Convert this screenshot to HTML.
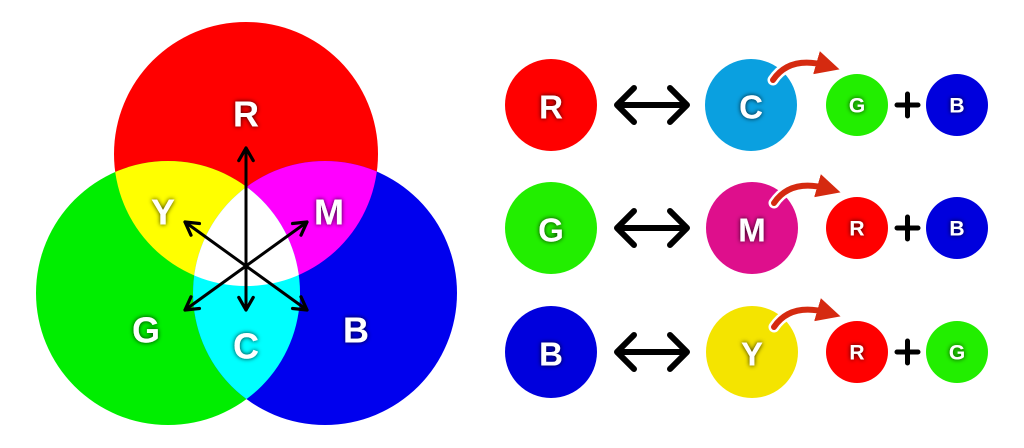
<!DOCTYPE html>
<html><head><style>
html,body{margin:0;padding:0;background:#fff;width:1024px;height:448px;overflow:hidden}
svg text{font-family:"Liberation Sans",sans-serif;font-weight:bold;fill:#fff;text-anchor:middle;dominant-baseline:central;}
</style></head><body>
<svg width="1024" height="448" viewBox="0 0 1024 448" xmlns="http://www.w3.org/2000/svg">
<defs>
<clipPath id="cR"><circle cx="246" cy="154" r="132"/></clipPath>
<clipPath id="cG"><circle cx="168" cy="293" r="132"/></clipPath>
<clipPath id="cB"><circle cx="325" cy="293" r="132"/></clipPath>
<filter id="sh" x="-50%" y="-50%" width="200%" height="200%"><feDropShadow dx="0" dy="0" stdDeviation="2.5" flood-color="#000" flood-opacity="0.85"/></filter>
<marker id="ah" viewBox="0 0 10 10" refX="8" refY="5" markerWidth="6" markerHeight="6" orient="auto-start-reverse"><path d="M1,1 L8,5 L1,9" fill="none" stroke="#000" stroke-width="1.8" stroke-linecap="round" stroke-linejoin="round"/></marker>
<marker id="ra" viewBox="0 0 10 10" refX="5" refY="5" markerWidth="4" markerHeight="4" orient="auto"><path d="M0,0 L10,5 L0,10 z" fill="#d52a10"/></marker>
</defs>
<circle cx="246" cy="154" r="132" fill="#ff0000"/>
<circle cx="168" cy="293" r="132" fill="#00ee00"/>
<circle cx="325" cy="293" r="132" fill="#0000ee"/>
<g clip-path="url(#cR)"><circle cx="168" cy="293" r="132" fill="#ffff00"/><circle cx="325" cy="293" r="132" fill="#ff00ff"/></g>
<g clip-path="url(#cG)"><circle cx="325" cy="293" r="132" fill="#00ffff"/></g>
<g clip-path="url(#cR)"><g clip-path="url(#cG)"><circle cx="325" cy="293" r="132" fill="#ffffff"/></g></g>
<g stroke="#000" stroke-width="3" fill="none" stroke-linecap="round">
<line x1="246" y1="310" x2="246" y2="148" marker-start="url(#ah)" marker-end="url(#ah)"/>
<line x1="185" y1="310" x2="307" y2="222" marker-start="url(#ah)" marker-end="url(#ah)"/>
<line x1="185" y1="222" x2="307" y2="310" marker-start="url(#ah)" marker-end="url(#ah)"/>
</g>
<g font-size="36" filter="url(#sh)">
<text x="246" y="114">R</text>
<text x="163" y="212">Y</text>
<text x="329" y="212">M</text>
<text x="146" y="330">G</text>
<text x="246" y="346">C</text>
<text x="356" y="330">B</text>
</g>
<g>
<circle cx="551" cy="105" r="46" fill="#ff0000"/>
<circle cx="751" cy="105" r="46" fill="#0aa0e0"/>
<circle cx="857" cy="105" r="31" fill="#22ee00"/>
<circle cx="957" cy="105" r="31" fill="#0000dd"/>
<circle cx="551" cy="228" r="46" fill="#22ee00"/>
<circle cx="752" cy="228" r="46" fill="#de0f8c"/>
<circle cx="857" cy="228" r="31" fill="#ff0000"/>
<circle cx="957" cy="228" r="31" fill="#0000dd"/>
<circle cx="551" cy="352" r="46" fill="#0000dd"/>
<circle cx="752" cy="352" r="46" fill="#f4e400"/>
<circle cx="857" cy="352" r="31" fill="#ff0000"/>
<circle cx="957" cy="352" r="31" fill="#22ee00"/>
</g>
<g stroke="#000" stroke-width="6" fill="none" stroke-linecap="round" stroke-linejoin="round">
<path d="M618,105 H686 M634,88 L617,105 L634,122 M670,88 L687,105 L670,122"/>
<path d="M618,228 H686 M634,211 L617,228 L634,245 M670,211 L687,228 L670,245"/>
<path d="M618,352 H686 M634,335 L617,352 L634,369 M670,335 L687,352 L670,369"/>
<path d="M897,105 H918 M907.5,94 V116" stroke-width="5"/>
<path d="M897,228 H918 M907.5,217 V239" stroke-width="5"/>
<path d="M897,352 H918 M907.5,341 V363" stroke-width="5"/>
</g>
<g fill="none" stroke-linecap="round">
<path d="M773,80 Q790,55 828,66" stroke="#fff" stroke-width="11"/>
<path d="M773,80 Q790,55 828,66" stroke="#d52a10" stroke-width="6" marker-end="url(#ra)"/>
<path d="M774,203 Q791,178 829,189" stroke="#fff" stroke-width="11"/>
<path d="M774,203 Q791,178 829,189" stroke="#d52a10" stroke-width="6" marker-end="url(#ra)"/>
<path d="M774,327 Q791,302 829,313" stroke="#fff" stroke-width="11"/>
<path d="M774,327 Q791,302 829,313" stroke="#d52a10" stroke-width="6" marker-end="url(#ra)"/>
</g>
<g filter="url(#sh)">
<text x="551" y="107" font-size="33">R</text>
<text x="751" y="107" font-size="33">C</text>
<text x="857" y="106" font-size="21">G</text>
<text x="957" y="106" font-size="21">B</text>
<text x="551" y="230" font-size="33">G</text>
<text x="752" y="230" font-size="33">M</text>
<text x="857" y="229" font-size="21">R</text>
<text x="957" y="229" font-size="21">B</text>
<text x="551" y="354" font-size="33">B</text>
<text x="752" y="354" font-size="33">Y</text>
<text x="857" y="353" font-size="21">R</text>
<text x="957" y="353" font-size="21">G</text>
</g>
</svg>
</body></html>
